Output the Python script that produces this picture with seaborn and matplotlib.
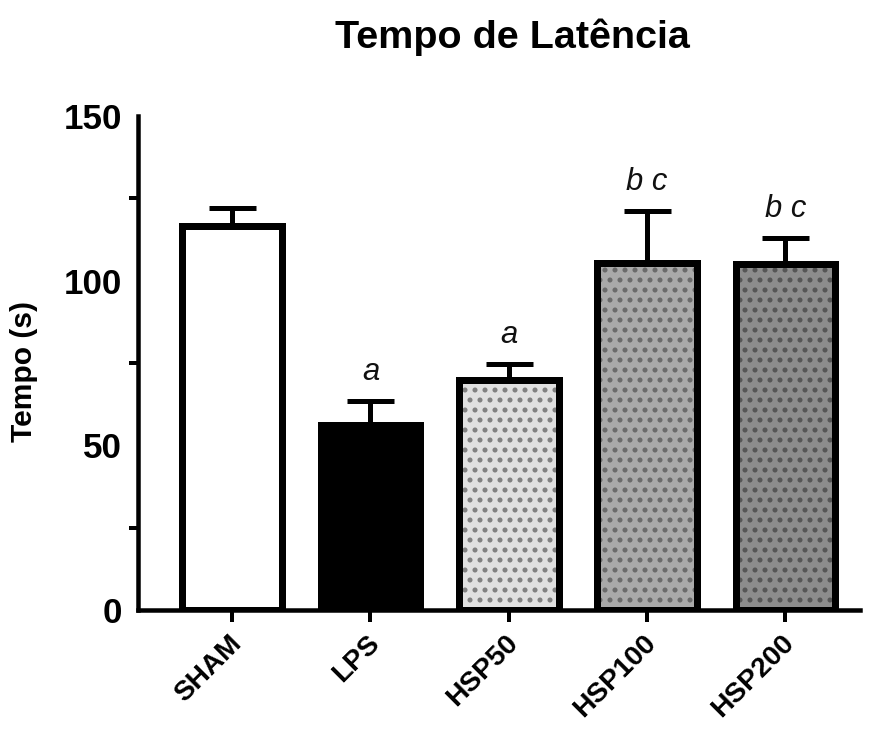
import matplotlib
matplotlib.use("Agg")
import matplotlib.pyplot as plt
import matplotlib.transforms as mtransforms
from matplotlib.colors import to_rgba
import seaborn as sns
import pandas as pd
import numpy as np

groups = ["SHAM", "LPS", "HSP50", "HSP100", "HSP200"]
means = [116.6, 56.2, 69.8, 105.4, 105.1]
sems = [5.5, 7.3, 4.9, 15.8, 7.9]
letters = ["", "a", "a", "b c", "b c"]
colors = ["#ffffff", "#000000", "#e0e0e0", "#a9a9a9", "#8c8c8c"]
hatches = [None, None, "..", "..", ".."]
hatch_colors = [None, None, "#808080", "#6a6a6a", "#555555"]

DPI = 120
def px(v):
    """convert pixels to points at the output dpi"""
    return v * 72.0 / DPI

sns.set_theme(style="white")
plt.rcParams['font.family'] = ['Liberation Sans', 'DejaVu Sans']
plt.rcParams['hatch.linewidth'] = px(3.0)
for k in ['text.color', 'axes.labelcolor', 'xtick.color', 'ytick.color']:
    plt.rcParams[k] = 'black'

df = pd.DataFrame({"group": groups, "mean": means})

fig = plt.figure(figsize=(874 / DPI, 729 / DPI), dpi=DPI)
ax = fig.add_axes([0.158, 0.163, 0.826, 0.678])

sns.barplot(data=df, x="group", y="mean", hue="group", palette=colors,
            order=groups, hue_order=groups, legend=False, width=0.72,
            edgecolor="black", linewidth=px(7), errorbar=None, ax=ax, zorder=3)

for patch, h, hc in zip(ax.patches, hatches, hatch_colors):
    if h:
        patch.set_hatch(h)
        if hasattr(patch, "set_hatchcolor"):
            patch.set_hatchcolor(hc)
        else:
            patch._hatch_color = to_rgba(hc)

x = np.arange(len(groups))
ax.errorbar(x, means, yerr=[np.zeros(len(sems)), sems], fmt="none",
            ecolor="black", elinewidth=px(5), capsize=px(23.5),
            capthick=px(5), zorder=2)

for xi, m, s, lab in zip(x, means, sems, letters):
    if lab:
        ax.text(xi, m + s + 4.2, lab, ha="center", va="bottom", fontsize=px(31),
                style="italic", color="#111111")

ax.set_ylim(0, 150)
ax.set_xlim(-0.68, 4.54)
ax.set_yticks([0, 50, 100, 150])
ax.set_yticks([25, 75, 125], minor=True)
ax.tick_params(axis="y", which="major", length=px(14), width=px(4),
               labelsize=px(35), pad=px(2))
ax.tick_params(axis="y", which="minor", length=px(9), width=px(4), left=True)
ax.tick_params(axis="x", length=px(12), width=px(4), pad=px(8), bottom=True)
for lab in ax.get_yticklabels():
    lab.set_fontweight("bold")
ax.set_xticks(x)
ax.set_xticklabels(groups, rotation=45, ha="right", rotation_mode="anchor",
                   fontweight="bold", fontsize=px(28))
shift = mtransforms.ScaledTranslation(-4 / DPI, 0, fig.dpi_scale_trans)
for lab in ax.get_xticklabels():
    lab.set_transform(lab.get_transform() + shift)
ax.set_xlabel("")
ax.set_ylabel("Tempo (s)", fontsize=px(30), fontweight="bold")
ax.yaxis.set_label_coords(-0.138, 0.482)

fig.text(512 / 874, 1 - 37 / 729, "Tempo de Latência", ha="center", va="center",
         fontsize=px(39.5), fontweight="bold")

sns.despine(ax=ax)
for sp in ["left", "bottom"]:
    ax.spines[sp].set_linewidth(px(4.5))
    ax.spines[sp].set_color("black")

fig.savefig("out.png", dpi=DPI, facecolor="white")
